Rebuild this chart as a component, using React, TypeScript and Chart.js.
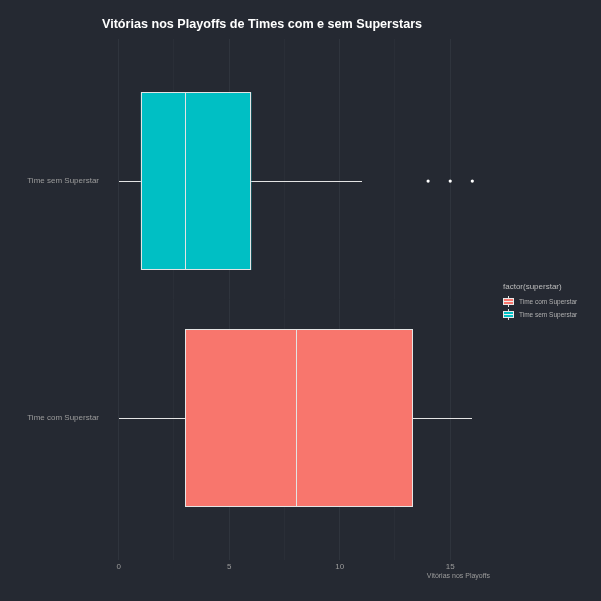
import React, { useEffect, useRef } from "react";
import { Chart, registerables } from "chart.js";

Chart.register(...registerables);

// Data
const categories = ["Time com Superstar", "Time sem Superstar"]; // y positions 1, 2
const seriesNames = ["Time com Superstar", "Time sem Superstar"];
const q1 = [3, 1];
const median = [8, 3];
const q3 = [13.3, 6];
const whiskerLow = [0, 0];
const whiskerHigh = [16, 11];
const outliers = [[], [14, 15, 16]];
const colors = ["#F8766D", "#00BFC4"];
const xTicks = [0, 2.5, 5, 7.5, 10, 12.5, 15];
const xLabelTicks = [0, 5, 10, 15];
const title = "Vitórias nos Playoffs de Times com e sem Superstars";
const xTitle = "Vitórias nos Playoffs";
const legendTitle = "factor(superstar)";

const BG = "#252932";
const FONT = "'Liberation Sans', Arial, sans-serif";
const LINE = "#e4e4e4";

const boxPlugin = {
  id: "boxparts",
  beforeDatasetsDraw(chart: any) {
    const { ctx, scales } = chart;
    const x = scales.x;
    const y = scales.y;
    ctx.save();
    ctx.strokeStyle = LINE;
    ctx.lineWidth = 1;
    categories.forEach((_c, i) => {
      const py = Math.round(y.getPixelForValue(i + 1)) + 0.5;
      ctx.beginPath();
      ctx.moveTo(Math.round(x.getPixelForValue(whiskerLow[i])), py);
      ctx.lineTo(Math.round(x.getPixelForValue(q1[i])), py);
      ctx.moveTo(Math.round(x.getPixelForValue(q3[i])), py);
      ctx.lineTo(Math.round(x.getPixelForValue(whiskerHigh[i])), py);
      ctx.stroke();
    });
    ctx.restore();
  },
  afterDatasetsDraw(chart: any) {
    const { ctx, scales } = chart;
    const x = scales.x;
    const meta = chart.getDatasetMeta(0);
    ctx.save();
    ctx.strokeStyle = LINE;
    ctx.lineWidth = 1;
    meta.data.forEach((el: any, i: number) => {
      const props = el.getProps(["x", "y", "base", "height"], true);
      const left = Math.round(Math.min(props.x, props.base)) + 0.5;
      const right = Math.round(Math.max(props.x, props.base)) - 0.5;
      const top = Math.round(props.y - props.height / 2) + 0.5;
      const bottom = Math.round(props.y + props.height / 2) - 0.5;
      ctx.strokeRect(left, top, right - left, bottom - top);
      const mx = Math.round(x.getPixelForValue(median[i])) + 0.5;
      ctx.beginPath();
      ctx.moveTo(mx, top);
      ctx.lineTo(mx, bottom);
      ctx.stroke();
    });
    ctx.restore();
  },
};

function LegendKey({ color }: { color: string }) {
  return (
    <div style={{ position: "relative", width: 11, height: 11, flex: "0 0 auto" }}>
      <div style={{ position: "absolute", left: 5, top: 0, width: 1, height: 2, background: "#e0e0e0" }} />
      <div
        style={{
          position: "absolute",
          left: 0,
          top: 2,
          width: 9,
          height: 5,
          background: color,
          border: "1px solid #e8e8e8",
        }}
      />
      <div style={{ position: "absolute", left: 1, top: 5, width: 9, height: 1, background: "#f0f0f0" }} />
      <div style={{ position: "absolute", left: 5, top: 9, width: 1, height: 2, background: "#e0e0e0" }} />
    </div>
  );
}

export default function App() {
  const ref = useRef<HTMLCanvasElement | null>(null);

  useEffect(() => {
    const canvas = ref.current;
    if (!canvas) return;

    const boxData = categories.map((_c, i) => ({ x: [q1[i], q3[i]], y: i + 1 }));
    const outlierData: { x: number; y: number }[] = [];
    outliers.forEach((arr, i) => arr.forEach((v) => outlierData.push({ x: v, y: i + 1 })));

    const chart = new Chart(canvas, {
      type: "bar",
      data: {
        datasets: [
          {
            type: "bar",
            label: "box",
            data: boxData as any,
            backgroundColor: colors,
            borderWidth: 0,
            grouped: false,
            barPercentage: 0.75,
            categoryPercentage: 1,
          } as any,
          {
            type: "scatter" as any,
            label: "outliers",
            data: outlierData as any,
            backgroundColor: "#ffffff",
            borderColor: "#ffffff",
            pointRadius: 1.6,
            borderWidth: 0,
          } as any,
        ],
      },
      options: {
        indexAxis: "y",
        responsive: false,
        animation: false,
        events: [],
        layout: { padding: { left: 0, right: 111, top: 39, bottom: 0 } },
        plugins: {
          legend: { display: false },
          tooltip: { enabled: false },
          title: { display: false },
        },
        scales: {
          x: {
            type: "linear",
            position: "bottom",
            min: -0.8,
            max: 16.8,
            offset: false,
            border: { display: false },
            grid: {
              drawTicks: false,
              color: (ctx: any) =>
                xLabelTicks.includes(ctx.tick?.value) ? "#2f343d" : "#2a2e37",
              lineWidth: 1,
            },
            afterBuildTicks: (scale: any) => {
              scale.ticks = xTicks.map((v) => ({ value: v }));
            },
            afterFit: (scale: any) => {
              scale.height = 41;
            },
            ticks: {
              autoSkip: false,
              maxRotation: 0,
              padding: 2,
              color: "#9c9c9c",
              font: { family: FONT, size: 8 },
              callback: (v: any) => (xLabelTicks.includes(Number(v)) ? String(v) : ""),
            },
            title: {
              display: true,
              text: xTitle,
              align: "end",
              color: "#9c9c9c",
              font: { family: FONT, size: 7 },
              padding: { top: 0, bottom: 20.5 },
            },
          },
          y: {
            type: "linear",
            position: "left",
            min: 0.4,
            max: 2.6,
            offset: false,
            border: { display: false },
            grid: { display: false, drawTicks: false },
            afterBuildTicks: (scale: any) => {
              scale.ticks = categories.map((_c, i) => ({ value: i + 1 }));
            },
            afterFit: (scale: any) => {
              scale.width = 101;
            },
            ticks: {
              autoSkip: false,
              padding: 2,
              color: "#9c9c9c",
              font: { family: FONT, size: 8 },
              callback: (v: any) => categories[Number(v) - 1] ?? "",
            },
          },
        },
      } as any,
      plugins: [boxPlugin],
    });

    return () => chart.destroy();
  }, []);

  return (
    <div
      style={{
        position: "fixed",
        left: 0,
        top: 0,
        width: 601,
        height: 601,
        background: BG,
        fontFamily: FONT,
      }}
    >
      <canvas ref={ref} width={601} height={601} style={{ position: "absolute", left: 0, top: 0 }} />
      <div
        style={{
          position: "absolute",
          left: 102,
          top: 16,
          color: "#ffffff",
          fontWeight: "bold",
          fontSize: 12.6,
          lineHeight: "16px",
          whiteSpace: "nowrap",
        }}
      >
        {title}
      </div>
      <div style={{ position: "absolute", left: 503, top: 282, color: "#bdbdbd" }}>
        <div style={{ fontSize: 8, lineHeight: "10px", marginBottom: 3 }}>{legendTitle}</div>
        {seriesNames.map((name, i) => (
          <div key={name} style={{ display: "flex", alignItems: "center", height: 13 }}>
            <LegendKey color={colors[i]} />
            <span style={{ fontSize: 6.5, marginLeft: 5, color: "#b0b0b0", whiteSpace: "nowrap" }}>{name}</span>
          </div>
        ))}
      </div>
    </div>
  );
}
